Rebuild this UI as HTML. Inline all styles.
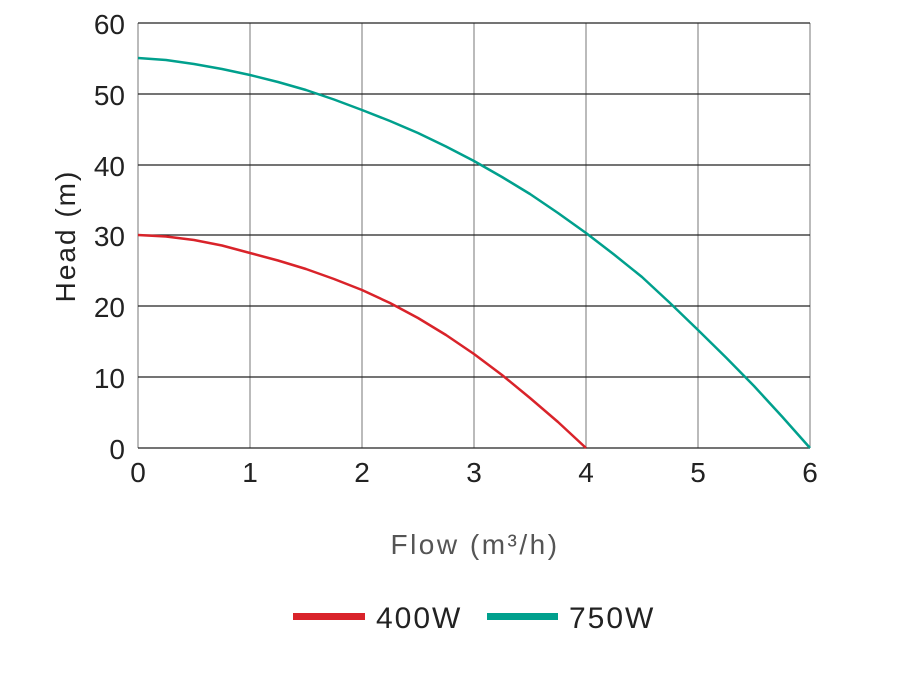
<!DOCTYPE html>
<html><head><meta charset="utf-8"><style>
html,body{margin:0;padding:0;background:#fff;}
svg text{font-family:"Liberation Sans",sans-serif;fill:#222;}
</style></head><body>
<svg width="922" height="683" viewBox="0 0 922 683" xmlns="http://www.w3.org/2000/svg">
<g stroke="#777" stroke-width="1">
<line x1="250" y1="23" x2="250" y2="448"/><line x1="362" y1="23" x2="362" y2="448"/>
<line x1="474" y1="23" x2="474" y2="448"/><line x1="586" y1="23" x2="586" y2="448"/>
<line x1="698" y1="23" x2="698" y2="448"/><line x1="810" y1="23" x2="810" y2="448"/>
<line x1="138" y1="23" x2="138" y2="448"/>
</g>
<g stroke="#222" stroke-width="1.3">
<line x1="138" y1="23" x2="810" y2="23"/><line x1="138" y1="94" x2="810" y2="94"/>
<line x1="138" y1="165" x2="810" y2="165"/><line x1="138" y1="235" x2="810" y2="235"/>
<line x1="138" y1="306" x2="810" y2="306"/><line x1="138" y1="377" x2="810" y2="377"/>
<line x1="138" y1="448" x2="810" y2="448"/>
</g>
<polyline fill="none" stroke="#d9232a" stroke-width="2.5" stroke-linejoin="round" points="138,235 166,236.5 194,240 222,245.5 250,253 278,260.5 306,269 334,279 362,290 390,303 418,318 446,335 474,354 502,375 530,398 558,422 586,448"/>
<polyline fill="none" stroke="#00a08d" stroke-width="2.5" stroke-linejoin="round" points="138,58 166,60 194,64 222,69 250,75 278,82 306,90 334,99.5 362,110 390,121 418,133 446,146.5 474,161 502,177 530,194 558,213 586,233 614,254.5 642,277 670,303 698,330 726,357.5 754,386 782,416.5 810,448"/>
<g font-size="28" text-anchor="end">
<text x="125" y="34">60</text><text x="125" y="105">50</text><text x="125" y="176">40</text>
<text x="125" y="246">30</text><text x="125" y="317">20</text><text x="125" y="388">10</text>
<text x="125" y="459">0</text>
</g>
<g font-size="28" text-anchor="middle">
<text x="138" y="482">0</text><text x="250" y="482">1</text><text x="362" y="482">2</text>
<text x="474" y="482">3</text><text x="586" y="482">4</text><text x="698" y="482">5</text>
<text x="810" y="482">6</text>
</g>
<text x="75" y="236" font-size="28" text-anchor="middle" transform="rotate(-90 75 236)" letter-spacing="2">Head (m)</text>
<text x="475" y="554" font-size="28" text-anchor="middle" style="fill:#555" letter-spacing="2.5">Flow (m³/h)</text>
<rect x="293" y="613" width="72" height="7" fill="#d9232a"/>
<text x="376" y="628" font-size="30" letter-spacing="2">400W</text>
<rect x="487" y="613" width="71" height="7" fill="#00a08d"/>
<text x="569" y="628" font-size="30" letter-spacing="2">750W</text>
</svg>
</body></html>
